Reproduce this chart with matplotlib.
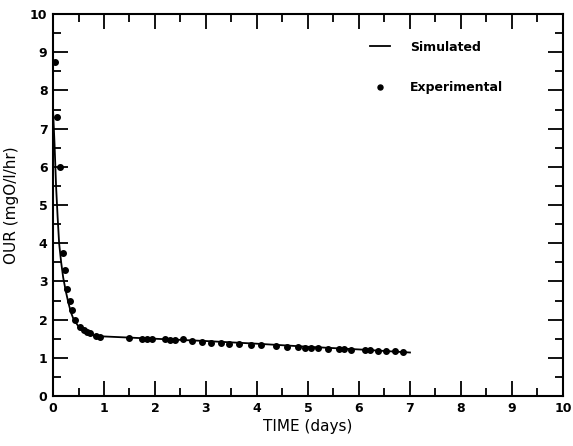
import matplotlib
matplotlib.use("Agg")
import matplotlib.pyplot as plt
from matplotlib.ticker import MultipleLocator

# experimental OUR points
exp_t = [0.04, 0.08, 0.14, 0.19, 0.24, 0.27, 0.33, 0.37, 0.43, 0.53, 0.6, 0.66,
         0.72, 0.85, 0.92, 1.5, 1.75, 1.85, 1.95, 2.2, 2.3, 2.4, 2.55, 2.72, 2.92,
         3.1, 3.3, 3.45, 3.65, 3.88, 4.08, 4.37, 4.58, 4.8, 4.95, 5.05, 5.2, 5.4,
         5.6, 5.7, 5.85, 6.12, 6.22, 6.37, 6.53, 6.7, 6.86]
exp_our = [8.75, 7.3, 6.0, 3.75, 3.3, 2.8, 2.5, 2.25, 1.98, 1.8, 1.72, 1.68,
           1.65, 1.58, 1.55, 1.52, 1.5, 1.5, 1.5, 1.5, 1.48, 1.46, 1.5, 1.43, 1.42,
           1.4, 1.38, 1.37, 1.35, 1.34, 1.33, 1.3, 1.29, 1.28, 1.26, 1.26, 1.25, 1.24,
           1.23, 1.22, 1.21, 1.2, 1.2, 1.19, 1.18, 1.17, 1.16]

# simulated curve
sim_t = [0.0, 0.03, 0.06, 0.09, 0.12, 0.16, 0.2, 0.25, 0.3, 0.35, 0.4, 0.5, 0.6,
         0.7, 0.8, 0.9, 1.0, 1.5, 2, 3, 4, 5, 6, 7]
sim_our = [7.5, 6.6, 5.5, 4.7, 4.0, 3.5, 3.1, 2.75, 2.45, 2.2, 2.02, 1.82, 1.7,
           1.63, 1.59, 1.57, 1.56, 1.53, 1.5, 1.44, 1.37, 1.29, 1.22, 1.14]

fig = plt.figure(figsize=(5.73, 4.46), dpi=100)
ax = fig.add_axes([0.0925, 0.112, 0.890, 0.8565])

ax.plot(sim_t, sim_our, color="black", lw=1.3, label="Simulated")
ax.plot(exp_t, exp_our, "o", color="black", ms=4, label="Experimental")

ax.set_xlim(0, 10)
ax.set_ylim(0, 10)
ax.xaxis.set_major_locator(MultipleLocator(1))
ax.xaxis.set_minor_locator(MultipleLocator(0.5))
ax.yaxis.set_major_locator(MultipleLocator(1))
ax.yaxis.set_minor_locator(MultipleLocator(0.5))
ax.tick_params(which="both", direction="in", top=True, right=True, width=1.3)
ax.tick_params(which="major", length=11, labelsize=9, pad=4)
ax.tick_params(which="minor", length=5.5)
for lab in ax.get_xticklabels() + ax.get_yticklabels():
    lab.set_fontweight("bold")
for s in ax.spines.values():
    s.set_linewidth(1.5)

ax.set_xlabel("TIME (days)", fontsize=11, labelpad=3)
ax.set_ylabel("OUR (mgO/l/hr)", fontsize=11, labelpad=8)

leg = ax.legend(loc="upper left", bbox_to_anchor=(0.6, 0.96), frameon=False,
                prop={"size": 9, "weight": "bold"}, handlelength=1.6,
                labelspacing=2.2, handletextpad=1.6, markerscale=0.9)

fig.savefig("out.png", dpi=100)
